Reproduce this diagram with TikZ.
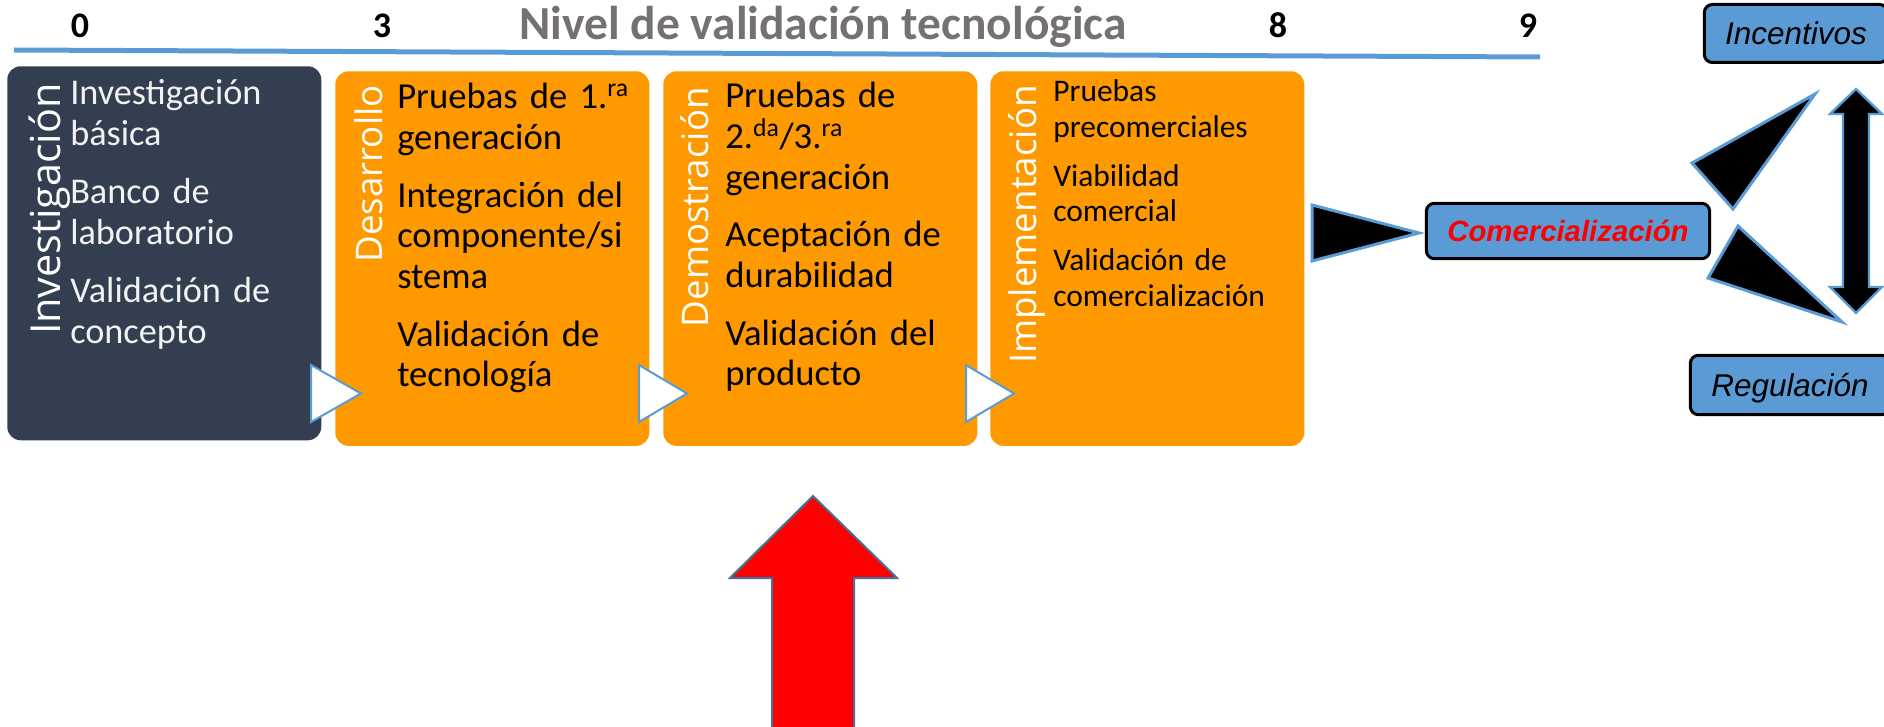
\documentclass[tikz,border=0pt]{standalone}
\usepackage{fontspec}
\setmainfont{Carlito}
\newfontfamily\headfont{Open Sans}
\newfontfamily\arialfont{Liberation Sans}
\definecolor{darkbox}{HTML}{333F50}
\definecolor{orangebox}{HTML}{FF9900}
\definecolor{lineblue}{HTML}{5B9BD5}
\definecolor{titlegray}{HTML}{767171}
\definecolor{arrowedge}{HTML}{41719C}
\definecolor{lighttext}{HTML}{F2F2F2}
\begin{document}
\begin{tikzpicture}[x=0.75pt,y=-0.75pt,
  stagebox/.style={rounded corners=10pt, inner sep=0pt, anchor=north west,
    minimum width=235.5pt, minimum height=281pt},
  headtext/.style={rotate=90, anchor=base east, inner sep=0pt, text=white,
    font=\headfont\fontsize{27.5}{30}\selectfont},
  bodytext/.style={anchor=base west, inner sep=0pt, align=left, text width=185pt,
    font=\fontsize{27.5}{30.5}\selectfont},
  smalltext/.style={anchor=base west, inner sep=0pt, align=left, text width=185pt,
    font=\fontsize{23.6}{26.6}\selectfont},
  numtext/.style={anchor=base, inner sep=0pt, font=\bfseries\fontsize{27}{30}\selectfont},
  bluebox/.style={fill=lineblue, draw=black, line width=2.25pt, rounded corners=6pt,
    inner sep=0pt, font=\arialfont\itshape\fontsize{23.6}{28}\selectfont,
    text height=16.9pt, text depth=0pt},
  whitetri/.style={fill=white, draw=lineblue, line width=1.5pt, line join=miter},
  blacktri/.style={fill=black, draw=lineblue, line width=2.25pt, line join=miter}
]
\clip (0,0) rectangle (1884,727);

% title and scale
\draw[lineblue, line width=3.75pt] (14,50) -- (1540,57);
\node[anchor=base, inner sep=0pt, text=titlegray,
  font=\bfseries\fontsize{35.6}{40}\selectfont] (title) at (823,40) {Nivel de validación tecnológica};
\node[numtext] (n0) at (80,38) {0};
\node[numtext] (n3) at (382,38) {3};
\node[numtext] (n8) at (1278,38) {8};
\node[numtext] (n9) at (1528,38) {9};

% stage boxes
\node[stagebox, fill=darkbox, minimum height=280.5pt] (inv) at (7,66) {};
\node[stagebox, fill=orangebox] (des) at (335,71) {};
\node[stagebox, fill=orangebox] (dem) at (663,71) {};
\node[stagebox, fill=orangebox] (imp) at (990,71) {};

% rotated headings
\node[headtext, font=\headfont\fontsize{31}{34}\selectfont] (invh) at (60,83) {Investigación};
\node[headtext] (desh) at (382,85) {Desarrollo};
\node[headtext] (demh) at (708,87) {Demostración};
\node[headtext] (imph) at (1036,85) {Implementación};

% body texts
\node[bodytext, text=lighttext, font=\fontsize{27.2}{30.75}\selectfont] (invt) at (70,105)
  {Investigación\\básica\\[12.75pt]Banco de\\laboratorio\\[12.75pt]Validación de\\concepto};
\node[bodytext] (dest) at (397,109)
  {Pruebas de 1.\textsuperscript{ra}\\generación\\[12.75pt]Integración del\\componente/si\\stema\\[12.75pt]Validación de\\tecnología};
\node[bodytext] (demt) at (725,108)
  {Pruebas de\\2.\textsuperscript{da}/3.\textsuperscript{ra}\\generación\\[12.75pt]Aceptación de\\durabilidad\\[12.75pt]Validación del\\producto};
\node[smalltext] (impt) at (1053,102)
  {Pruebas\\precomerciales\\[10.1pt]Viabilidad\\comercial\\[10.1pt]Validación de\\comercialización};

% small white triangles between stages
\filldraw[whitetri] (311,365) -- (361,393.5) -- (311,422) -- cycle;
\filldraw[whitetri] (639,365) -- (687,393.5) -- (639,422) -- cycle;
\filldraw[whitetri] (966,365) -- (1014,393.5) -- (966,422) -- cycle;

% commercialisation
\filldraw[blacktri] (1312,205) -- (1419,233) -- (1312,261) -- cycle;
\node[bluebox, minimum width=212.5pt, minimum height=41.5pt, text=red,
  font=\arialfont\bfseries\itshape\fontsize{22}{26}\selectfont, text height=15.8pt]
  (com) at (1568,231) {Comercialización};

\node[bluebox, minimum width=137.5pt, minimum height=43.5pt] (inc) at (1796,33.5) {Incentivos};
\node[bluebox, minimum width=149.5pt, minimum height=44.5pt] (reg) at (1790,385) {Regulación};

\filldraw[blacktri] (1692,163) -- (1815,94) -- (1733,209) -- cycle;
\filldraw[blacktri] (1738,226) -- (1708,278) -- (1842,322) -- cycle;

% double vertical arrow
\filldraw[blacktri, line width=1.8pt] (1856,89) -- (1882,114) -- (1869,114) -- (1869,287) -- (1882,287)
  -- (1856,313) -- (1830,287) -- (1843,287) -- (1843,114) -- (1830,114) -- cycle;

% red arrow
\filldraw[fill=red, draw=arrowedge, line width=1.5pt, line join=miter]
  (813,496) -- (897,578) -- (854,578) -- (854,732) -- (772,732) -- (772,578) -- (730,578) -- cycle;
\end{tikzpicture}
\end{document}
